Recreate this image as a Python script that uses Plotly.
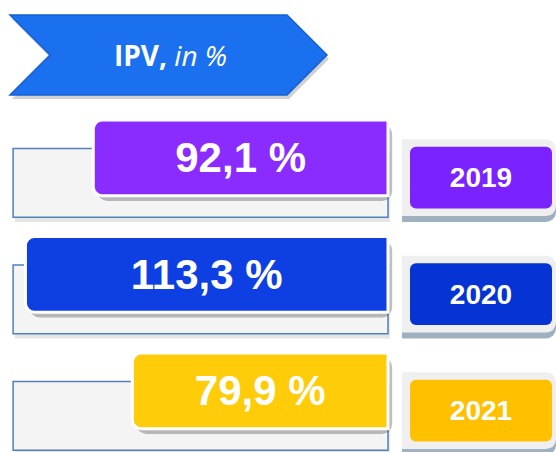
import plotly.graph_objects as go

# data
years = ["2019", "2020", "2021"]
ipv = [92.1, 113.3, 79.9]
value_labels = ["92,1 %", "113,3 %", "79,9 %"]
bar_colors = ["#8a2cff", "#0e3fe3", "#ffcc0a"]
year_colors = ["#7a22ff", "#0634d4", "#ffc000"]
title_text = "<b>IPV,</b> <i>in %</i>"

W, H = 556, 452
frame_len = max(ipv) * 1.034

fig = go.Figure()

# light frames behind the value bars
fig.add_trace(go.Bar(
    y=years, x=[frame_len] * len(years), base=-0.6, orientation="h",
    offset=-0.04, width=0.59, marker=dict(color="rgba(0,0,0,0.10)", line_width=0),
    hoverinfo="skip", showlegend=False,
))
fig.add_trace(go.Bar(
    y=years, x=[frame_len] * len(years), orientation="h",
    offset=-0.08, width=0.59,
    marker=dict(color="#f4f4f4", line=dict(color="#4f81bd", width=1.5)),
    hoverinfo="skip", showlegend=False,
))

# value bars with a soft shadow
fig.add_trace(go.Bar(
    y=years, x=ipv, base=-1.3, orientation="h",
    offset=-0.29, width=0.66,
    marker=dict(color="rgba(0,0,0,0.25)", line_width=0, cornerradius=10),
    hoverinfo="skip", showlegend=False,
))
fig.add_trace(go.Bar(
    y=years, x=ipv, orientation="h",
    offset=-0.325, width=0.65,
    marker=dict(color=bar_colors, line=dict(color="white", width=3), cornerradius=9),
    text=value_labels, textposition="inside", insidetextanchor="middle", textangle=0,
    textfont=dict(family="Liberation Sans, Arial", size=42, color="white", weight="bold"),
    hoverinfo="skip", showlegend=False,
))

# year boxes on the right
fig.add_trace(go.Bar(
    y=years, x=[1] * len(years), orientation="h", xaxis="x2",
    offset=-0.11, width=0.66,
    marker=dict(color="#9fb1c0", line_width=0, cornerradius=10),
    hoverinfo="skip", showlegend=False,
))
fig.add_trace(go.Bar(
    y=years, x=[1] * len(years), orientation="h", xaxis="x2",
    offset=-0.16, width=0.66,
    marker=dict(color="#efefef", line_width=0, cornerradius=10),
    hoverinfo="skip", showlegend=False,
))
fig.add_trace(go.Bar(
    y=years, x=[0.922] * len(years), base=0.052, orientation="h", xaxis="x2",
    offset=-0.095, width=0.53,
    marker=dict(color=year_colors, line_width=0, cornerradius=6),
    text=years, textposition="inside", insidetextanchor="middle", textangle=0,
    textfont=dict(family="Liberation Sans, Arial", size=28, color="white", weight="bold"),
    hoverinfo="skip", showlegend=False,
))


def px_path(points, dx=0, dy=0):
    parts = []
    for i, (x, y) in enumerate(points):
        parts.append(("M" if i == 0 else "L") + f"{(x + dx) / W:.4f},{1 - (y + dy) / H:.4f}")
    return " ".join(parts) + " Z"


chevron = [(10, 15), (287, 15), (327, 55), (287, 95), (10, 95), (50, 55)]

fig.update_layout(
    width=W, height=H,
    margin=dict(l=0, r=0, t=0, b=0),
    paper_bgcolor="white", plot_bgcolor="white",
    barmode="overlay",
    showlegend=False,
    xaxis=dict(domain=[0, 1], range=[121.25, -52.5], visible=False, fixedrange=True),
    xaxis2=dict(domain=[402 / W, 1], range=[0, 1], anchor="y", visible=False, fixedrange=True),
    yaxis=dict(type="category", categoryorder="array", categoryarray=years,
               range=[2.525, -1.3545], visible=False, fixedrange=True),
    shapes=[
        dict(type="path", xref="paper", yref="paper", path=px_path(chevron, 2, 4),
             fillcolor="rgba(0,0,0,0.18)", line_width=0, layer="above"),
        dict(type="path", xref="paper", yref="paper", path=px_path(chevron),
             fillcolor="#1a70ee", line=dict(color="#1560d6", width=1.5), layer="above"),
    ],
    annotations=[
        dict(text=title_text, xref="paper", yref="paper", x=170 / W, y=1 - 55 / H,
             showarrow=False, xanchor="center", yanchor="middle",
             font=dict(family="Open Sans, Noto Sans", size=28, color="white")),
    ],
)

fig.write_html("out.html", config={"displayModeBar": False},
               post_script="document.body.style.margin='0';")
